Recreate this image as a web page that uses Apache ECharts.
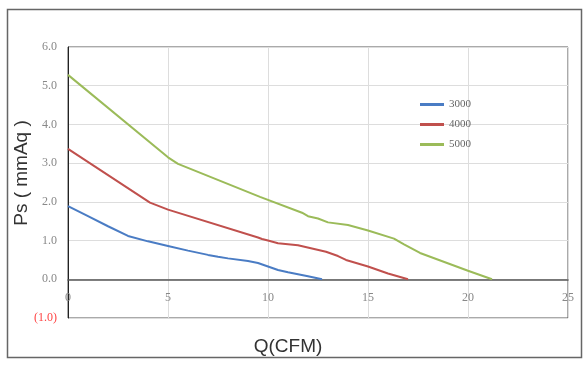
<!DOCTYPE html>
<html>
<head>
<meta charset="utf-8">
<script src="https://cdn.jsdelivr.net/npm/echarts@6/dist/echarts.min.js"></script>
<style>html,body{margin:0;padding:0;background:#fff;}#c{width:587px;height:368px;}</style>
</head>
<body>
<div id="c"></div>
<script>
const seriesNames = ['3000', '4000', '5000'];
const q3000 = [0, 1, 2, 3, 4, 5, 6, 7, 7.5, 8, 9, 9.5, 10, 10.5, 11, 12, 12.7];
const p3000 = [1.89, 1.63, 1.37, 1.12, 0.98, 0.86, 0.74, 0.63, 0.58, 0.54, 0.47, 0.42, 0.33, 0.24, 0.18, 0.08, 0];
const q4000 = [0, 4.1, 5, 9.5, 9.7, 10, 10.5, 11.5, 12.9, 13.5, 13.9, 15, 16, 17];
const p4000 = [3.37, 1.98, 1.8, 1.08, 1.04, 1.0, 0.93, 0.88, 0.71, 0.6, 0.5, 0.33, 0.15, 0];
const q5000 = [0, 5, 5.5, 9.6, 11.7, 12, 12.5, 13, 14, 15, 16.3, 16.8, 17.6, 20, 21.2];
const p5000 = [5.28, 3.15, 2.98, 2.13, 1.72, 1.63, 1.57, 1.47, 1.4, 1.26, 1.05, 0.9, 0.68, 0.22, 0];
const colors = ['#4A7CC4', '#C0504D', '#9BBB59'];
const xTitle = 'Q(CFM)';
const yTitle = 'Ps ( mmAq )';

function zip(a, b) { return a.map((v, i) => [v, b[i]]); }
const dataSets = [zip(q3000, p3000), zip(q4000, p4000), zip(q5000, p5000)];

const chart = echarts.init(document.getElementById('c'), null, {renderer: 'canvas'});
chart.setOption({
  animation: false,
  backgroundColor: '#fff',
  grid: {left: 68, right: 19, top: 47, bottom: 50, show: true, borderColor: '#555', borderWidth: 1},
  legend: {
    orient: 'vertical', left: 415, top: 94, itemWidth: 24, itemHeight: 3, itemGap: 9,
    icon: 'rect',
    textStyle: {fontFamily: 'Liberation Serif', fontSize: 11, color: '#666'},
    data: seriesNames
  },
  xAxis: {
    type: 'value', min: 0, max: 25, interval: 5,
    axisLine: {show: true, onZero: true, lineStyle: {color: '#555', width: 1.5}},
    axisTick: {show: false},
    axisLabel: {fontFamily: 'Liberation Serif', fontSize: 12, color: '#888', margin: -26},
    splitLine: {show: true, lineStyle: {color: '#ddd', width: 1}}
  },
  yAxis: {
    type: 'value', min: -1, max: 6, interval: 1,
    axisLine: {show: true, onZero: false, lineStyle: {color: '#222', width: 1}},
    axisTick: {show: false},
    axisLabel: {
      fontFamily: 'Liberation Serif', fontSize: 12, margin: 11,
      formatter: v => v < 0 ? '(' + Math.abs(v).toFixed(1) + ')' : v.toFixed(1),
      color: v => (Number(v) < 0 ? '#F44' : '#888')
    },
    splitLine: {show: true, lineStyle: {color: '#ddd', width: 1}}
  },
  graphic: [
    {type: 'rect', shape: {x: 7.5, y: 9.5, width: 574, height: 348}, style: {fill: 'none', stroke: '#666', lineWidth: 1.5}, z: 100},
    {type: 'text', x: 22, y: 173, rotation: Math.PI / 2, style: {text: yTitle, font: '19px "Liberation Sans"', fill: '#333', textAlign: 'center', textVerticalAlign: 'middle'}},
    {type: 'text', x: 288, y: 347, style: {text: xTitle, font: '19px "Liberation Sans"', fill: '#333', textAlign: 'center', textVerticalAlign: 'middle'}}
  ],
  series: seriesNames.map((n, i) => ({
    name: n, type: 'line', data: dataSets[i], showSymbol: false, symbol: 'none',
    lineStyle: {color: colors[i], width: 2}, itemStyle: {color: colors[i]}
  }))
});
</script>
</body>
</html>
